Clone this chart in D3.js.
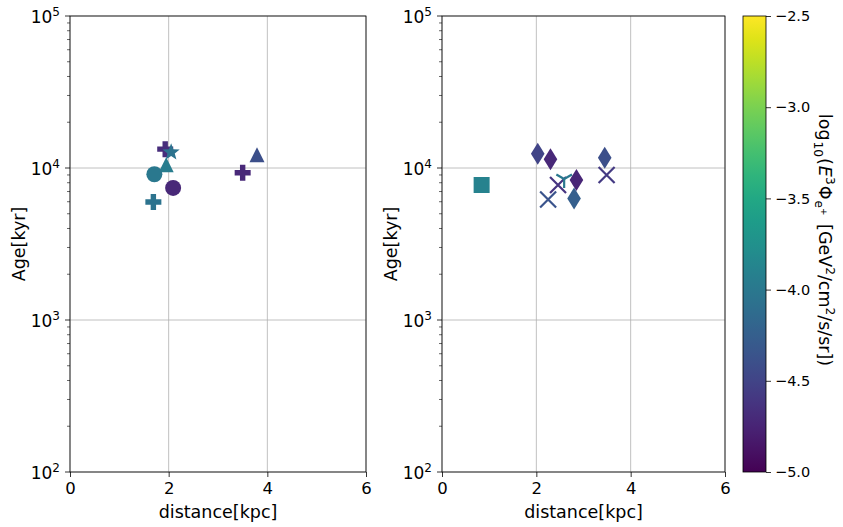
<!DOCTYPE html>
<html>
<head>
<meta charset="utf-8">
<script src="https://cdn.jsdelivr.net/npm/d3@7"></script>
<style>
body { margin: 0; background: #fff; }
text { font-family: "DejaVu Sans", sans-serif; fill: #000; }
</style>
</head>
<body>
<svg id="chart" width="843" height="527"></svg>
<script>
// left panel sources
var leftDist  = [1.93, 2.05, 1.95, 1.71, 2.09, 1.69, 3.79, 3.50];
var leftAge   = [13300, 12700, 10500, 9100, 7400, 5970, 12200, 9300];
var leftFlux  = [-4.68, -4.05, -3.95, -4.0, -4.72, -4.05, -4.4, -4.72];
var leftShape = ["plus", "star", "triangle", "circle", "circle", "plus", "triangle", "plus"];

// right panel sources
var rightDist  = [0.84, 2.03, 2.30, 3.45, 3.49, 2.25, 2.46, 2.59, 2.85, 2.80];
var rightAge   = [7730, 12400, 11400, 11700, 9000, 6200, 7730, 8470, 8340, 6300];
var rightFlux  = [-3.9, -4.5, -4.72, -4.4, -4.58, -4.35, -4.62, -4.0, -4.73, -4.25];
var rightShape = ["square", "diamond", "diamond", "diamond", "x", "x", "x", "tri", "diamond", "diamond"];

var xTicks = [0, 2, 4, 6];
var yTicks = [2, 3, 4, 5];          // exponents of 10
var cbTicks = [-5.0, -4.5, -4.0, -3.5, -3.0, -2.5];

var svg = d3.select("#chart");
var color = d3.scaleSequential(d3.interpolateViridis).domain([-5, -2.5]);
var top_ = 16, bottom = 472;
var y = d3.scaleLog().domain([1e2, 1e5]).range([bottom, top_]);

function markerPath(shape) {
	var p = d3.path();
	if (shape == "circle") {
		p.arc(0, 0, 8, 0, 2 * Math.PI);
	} else if (shape == "plus") {
		var a = 8, b = 2.7;
		p.moveTo(-b, -a); p.lineTo(b, -a); p.lineTo(b, -b); p.lineTo(a, -b); p.lineTo(a, b);
		p.lineTo(b, b); p.lineTo(b, a); p.lineTo(-b, a); p.lineTo(-b, b); p.lineTo(-a, b);
		p.lineTo(-a, -b); p.lineTo(-b, -b); p.closePath();
	} else if (shape == "triangle") {
		p.moveTo(0, -7.5); p.lineTo(7.5, 7.5); p.lineTo(-7.5, 7.5); p.closePath();
	} else if (shape == "square") {
		p.rect(-8, -8, 16, 16);
	} else if (shape == "diamond") {
		p.moveTo(0, -11); p.lineTo(6.8, 0); p.lineTo(0, 11); p.lineTo(-6.8, 0); p.closePath();
	} else if (shape == "star") {
		for (var i = 0; i < 10; i++) {
			var r = i % 2 == 0 ? 9 : 3.8;
			var ang = -Math.PI / 2 + i * Math.PI / 5;
			if (i == 0) p.moveTo(r * Math.cos(ang), r * Math.sin(ang));
			else p.lineTo(r * Math.cos(ang), r * Math.sin(ang));
		}
		p.closePath();
	} else if (shape == "x") {
		p.moveTo(-8, -8); p.lineTo(8, 8); p.moveTo(-8, 8); p.lineTo(8, -8);
	} else if (shape == "tri") {
		p.moveTo(0, 0); p.lineTo(0, 9);
		p.moveTo(0, 0); p.lineTo(-7.8, -4.5);
		p.moveTo(0, 0); p.lineTo(7.8, -4.5);
	}
	return p.toString();
}

function drawPanel(x0, x1, dist, age, flux, shape) {
	var x = d3.scaleLinear().domain([0, 6]).range([x0, x1]);
	var g = svg.append("g");

	// grid
	g.selectAll(".gx").data(xTicks).enter().append("line")
		.attr("x1", function(d) { return x(d); }).attr("x2", function(d) { return x(d); })
		.attr("y1", top_).attr("y2", bottom)
		.attr("stroke", "#b0b0b0").attr("stroke-width", 0.8);
	g.selectAll(".gy").data(yTicks).enter().append("line")
		.attr("x1", x0).attr("x2", x1)
		.attr("y1", function(d) { return y(Math.pow(10, d)); }).attr("y2", function(d) { return y(Math.pow(10, d)); })
		.attr("stroke", "#b0b0b0").attr("stroke-width", 0.8);

	// markers
	var idx = d3.range(dist.length);
	g.selectAll(".pt").data(idx).enter().append("path")
		.attr("transform", function(i) { return "translate(" + x(dist[i]) + "," + y(age[i]) + ")"; })
		.attr("d", function(i) { return markerPath(shape[i]); })
		.attr("fill", function(i) { return (shape[i] == "x" || shape[i] == "tri") ? "none" : color(flux[i]); })
		.attr("stroke", function(i) { return (shape[i] == "x" || shape[i] == "tri") ? color(flux[i]) : "none"; })
		.attr("stroke-width", 2.2);

	// axes
	var xAxis = d3.axisBottom(x).tickValues(xTicks).tickSize(5).tickPadding(5).tickFormat(d3.format("d"));
	var gx = g.append("g").attr("transform", "translate(0," + bottom + ")").call(xAxis);
	gx.select(".domain").remove();
	gx.selectAll("text").attr("font-size", 16.5).attr("font-family", "DejaVu Sans");
	gx.selectAll("line").attr("stroke", "#000").attr("stroke-width", 0.8);

	var minor = [];
	for (var e = 2; e < 5; e++)
		for (var m = 2; m < 10; m++) minor.push(m * Math.pow(10, e));
	g.selectAll(".my").data(minor).enter().append("line")
		.attr("x1", x0 - 3).attr("x2", x0)
		.attr("y1", function(d) { return y(d); }).attr("y2", function(d) { return y(d); })
		.attr("stroke", "#000").attr("stroke-width", 0.6);
	g.selectAll(".ty").data(yTicks).enter().append("line")
		.attr("x1", x0 - 5).attr("x2", x0)
		.attr("y1", function(d) { return y(Math.pow(10, d)); }).attr("y2", function(d) { return y(Math.pow(10, d)); })
		.attr("stroke", "#000").attr("stroke-width", 0.8);
	var lab = g.selectAll(".ly").data(yTicks).enter().append("text")
		.attr("x", x0 - 10).attr("y", function(d) { return y(Math.pow(10, d)) + 7; })
		.attr("text-anchor", "end").attr("font-size", 17);
	lab.append("tspan").text("10");
	lab.append("tspan").attr("dy", -7).attr("font-size", 12).text(function(d) { return d; });

	// frame
	g.append("rect").attr("x", x0).attr("y", top_).attr("width", x1 - x0).attr("height", bottom - top_)
		.attr("fill", "none").attr("stroke", "#000").attr("stroke-width", 0.8);

	g.append("text").attr("x", (x0 + x1) / 2).attr("y", 518).attr("text-anchor", "middle")
		.attr("font-size", 17.5).text("distance[kpc]");
	g.append("text").attr("transform", "translate(" + (x0 - 45) + "," + ((top_ + bottom) / 2) + ") rotate(-90)")
		.attr("text-anchor", "middle").attr("font-size", 17.5).text("Age[kyr]");
}

drawPanel(70, 366, leftDist, leftAge, leftFlux, leftShape);
drawPanel(442, 725, rightDist, rightAge, rightFlux, rightShape);

// colorbar
var cbX = 743, cbW = 23;
var cy = d3.scaleLinear().domain([-5, -2.5]).range([bottom, top_]);
var grad = svg.append("defs").append("linearGradient").attr("id", "vir")
	.attr("x1", "0").attr("y1", "1").attr("x2", "0").attr("y2", "0");
d3.range(0, 1.0001, 0.05).forEach(function(t) {
	grad.append("stop").attr("offset", t).attr("stop-color", d3.interpolateViridis(t));
});
svg.append("rect").attr("x", cbX).attr("y", top_).attr("width", cbW).attr("height", bottom - top_)
	.attr("fill", "url(#vir)").attr("stroke", "#000").attr("stroke-width", 0.8);
var cAxis = d3.axisRight(cy).tickValues(cbTicks).tickSize(5).tickPadding(4)
	.tickFormat(function(d) { return d3.format(".1f")(d).replace("-", "\u2212"); });
var gc = svg.append("g").attr("transform", "translate(" + (cbX + cbW) + ",0)").call(cAxis);
gc.select(".domain").remove();
gc.selectAll("text").attr("font-size", 14.5).attr("font-family", "DejaVu Sans");
gc.selectAll("line").attr("stroke", "#000").attr("stroke-width", 0.8);

var cl = svg.append("text").attr("transform", "translate(819,240) rotate(90)")
	.attr("text-anchor", "middle").attr("font-size", 17.5);
cl.append("tspan").text("log");
cl.append("tspan").attr("dx", 1).attr("dy", 5).attr("font-size", 12.2).text("10");
cl.append("tspan").attr("dx", 1).attr("dy", -5).text("(");
cl.append("tspan").attr("dx", 1).attr("font-style", "italic").text("E");
cl.append("tspan").attr("dy", -7).attr("font-size", 12.2).text("3");
cl.append("tspan").attr("dx", 1).attr("dy", 7).text("\u03a6");
cl.append("tspan").attr("dx", 1).attr("dy", 4).attr("font-size", 12.2).text("e");
cl.append("tspan").attr("dy", -6).attr("font-size", 9).text("+");
cl.append("tspan").attr("dx", 3).attr("dy", 2).text(" [GeV");
cl.append("tspan").attr("dy", -7).attr("font-size", 12.2).text("2");
cl.append("tspan").attr("dy", 7).text("/cm");
cl.append("tspan").attr("dy", -7).attr("font-size", 12.2).text("2");
cl.append("tspan").attr("dy", 7).text("/s/sr])");
</script>
</body>
</html>
